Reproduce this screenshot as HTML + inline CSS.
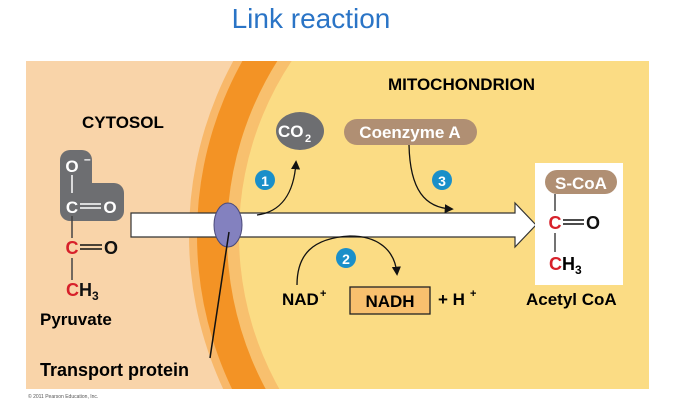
<!DOCTYPE html>
<html><head><style>
html,body{margin:0;padding:0;background:#fff;width:681px;height:403px;overflow:hidden}
svg{display:block;overflow:hidden}
text{font-family:"Liberation Sans",Arial,sans-serif;font-weight:bold}
</style></head><body>
<svg width="681" height="403" viewBox="0 0 681 403" xmlns="http://www.w3.org/2000/svg">
<defs>
<clipPath id="p"><rect x="26" y="61" width="623" height="328"/></clipPath>
<marker id="ah" viewBox="0 0 10 10" refX="8" refY="5" markerWidth="7" markerHeight="7" orient="auto"><path d="M0,0 L10,5 L0,10 z" fill="#111"/></marker>
</defs>
<text x="311" y="28" font-size="28" fill="#2a74c6" text-anchor="middle" style="font-weight:normal">Link reaction</text>
<g clip-path="url(#p)">
<rect x="26" y="61" width="623" height="328" fill="#f9d4a9"/>
<circle cx="553" cy="235" r="364" fill="#f8b86a"/>
<circle cx="553" cy="235" r="356" fill="#f39325"/>
<circle cx="553" cy="235" r="326" fill="#f8c06e"/>
<circle cx="553" cy="235" r="314" fill="#fbdc84"/>
</g>
<text x="82" y="128" font-size="17">CYTOSOL</text>
<text x="388" y="90" font-size="17">MITOCHONDRION</text>
<path d="M70,150 h12 a10,10 0 0 1 10,10 v23 h22 a10,10 0 0 1 10,10 v18 a10,10 0 0 1 -10,10 h-44 a10,10 0 0 1 -10,-10 v-51 a10,10 0 0 1 10,-10 z" fill="#6d6e71"/>
<text x="72" y="172" font-size="17" fill="#fff" text-anchor="middle">O</text>
<text x="84" y="163" font-size="12" fill="#fff">–</text>
<line x1="72" y1="175" x2="72" y2="193" stroke="#fff" stroke-width="1.5"/>
<text x="72" y="213" font-size="17" fill="#fff" text-anchor="middle">C</text>
<line x1="80" y1="204" x2="101" y2="204" stroke="#fff" stroke-width="1.5"/><line x1="80" y1="208" x2="101" y2="208" stroke="#fff" stroke-width="1.5"/>
<text x="110" y="213" font-size="17" fill="#fff" text-anchor="middle">O</text>
<line x1="72" y1="216" x2="72" y2="238" stroke="#444" stroke-width="1.5"/>
<text x="72" y="254" font-size="18" fill="#d7202a" text-anchor="middle">C</text>
<line x1="80" y1="245" x2="102" y2="245" stroke="#111" stroke-width="1.5"/><line x1="80" y1="249" x2="102" y2="249" stroke="#111" stroke-width="1.5"/>
<text x="111" y="254" font-size="18" fill="#111" text-anchor="middle">O</text>
<line x1="72" y1="258" x2="72" y2="280" stroke="#444" stroke-width="1.5"/>
<text x="66" y="296" font-size="18" fill="#d7202a">C</text>
<text x="79" y="296" font-size="18" fill="#111">H</text><text x="92" y="300" font-size="12" fill="#111">3</text>
<text x="40" y="325" font-size="17">Pyruvate</text>
<path d="M131,213 H515 V203 L536,225 L515,247 V237 H131 Z" fill="#fff" stroke="#333" stroke-width="1.2"/>
<ellipse cx="228" cy="225" rx="14" ry="22" fill="#8381bf" stroke="#4b4a7a" stroke-width="1"/>
<line x1="229" y1="232" x2="210" y2="358" stroke="#111" stroke-width="1.5"/>
<text x="40" y="376" font-size="18">Transport protein</text>
<text x="28" y="398" font-size="5" fill="#555" style="font-weight:normal">© 2011 Pearson Education, Inc.</text>
<ellipse cx="300" cy="131" rx="24" ry="19" fill="#6d6e71"/>
<text x="278" y="137" font-size="17" fill="#fff">CO</text><text x="305" y="142" font-size="11" fill="#fff">2</text>
<path d="M257,215 C280,212 294,195 296,162" fill="none" stroke="#111" stroke-width="1.3" marker-end="url(#ah)"/>
<circle cx="265" cy="180" r="10" fill="#1a8fc9"/><text x="265" y="186" font-size="14" fill="#fff" text-anchor="middle">1</text>
<rect x="344" y="119" width="133" height="26" rx="13" fill="#b08f73"/>
<text x="410" y="138" font-size="17" fill="#fff" text-anchor="middle">Coenzyme A</text>
<path d="M409,145 C410,190 425,208 452,209" fill="none" stroke="#111" stroke-width="1.3" marker-end="url(#ah)"/>
<circle cx="442" cy="180" r="10" fill="#1a8fc9"/><text x="442" y="186" font-size="14" fill="#fff" text-anchor="middle">3</text>
<path d="M297,285 C297,255 312,238 350,236 C378,236 395,250 397,274" fill="none" stroke="#111" stroke-width="1.3" marker-end="url(#ah)"/>
<circle cx="346" cy="258" r="10" fill="#1a8fc9"/><text x="346" y="264" font-size="14" fill="#fff" text-anchor="middle">2</text>
<text x="282" y="305" font-size="17">NAD</text><text x="320" y="297" font-size="11">+</text>
<rect x="350" y="287" width="80" height="27" fill="#f8c06e" stroke="#222" stroke-width="1.3"/>
<text x="390" y="307" font-size="17" text-anchor="middle">NADH</text>
<text x="438" y="305" font-size="17">+ H</text><text x="470" y="297" font-size="11">+</text>
<rect x="535" y="163" width="88" height="122" fill="#fff"/>
<rect x="545" y="170" width="72" height="24" rx="12" fill="#b08f73"/>
<text x="581" y="189" font-size="17" fill="#fff" text-anchor="middle">S-CoA</text>
<line x1="555" y1="194" x2="555" y2="211" stroke="#444" stroke-width="1.5"/>
<text x="555" y="229" font-size="18" fill="#d7202a" text-anchor="middle">C</text>
<line x1="563" y1="220" x2="584" y2="220" stroke="#111" stroke-width="1.5"/><line x1="563" y1="224" x2="584" y2="224" stroke="#111" stroke-width="1.5"/>
<text x="593" y="229" font-size="18" fill="#111" text-anchor="middle">O</text>
<line x1="555" y1="233" x2="555" y2="252" stroke="#444" stroke-width="1.5"/>
<text x="549" y="270" font-size="18" fill="#d7202a">C</text>
<text x="562" y="270" font-size="18">H</text><text x="575" y="274" font-size="12">3</text>
<text x="526" y="305" font-size="17">Acetyl CoA</text>
</svg>
</body></html>
